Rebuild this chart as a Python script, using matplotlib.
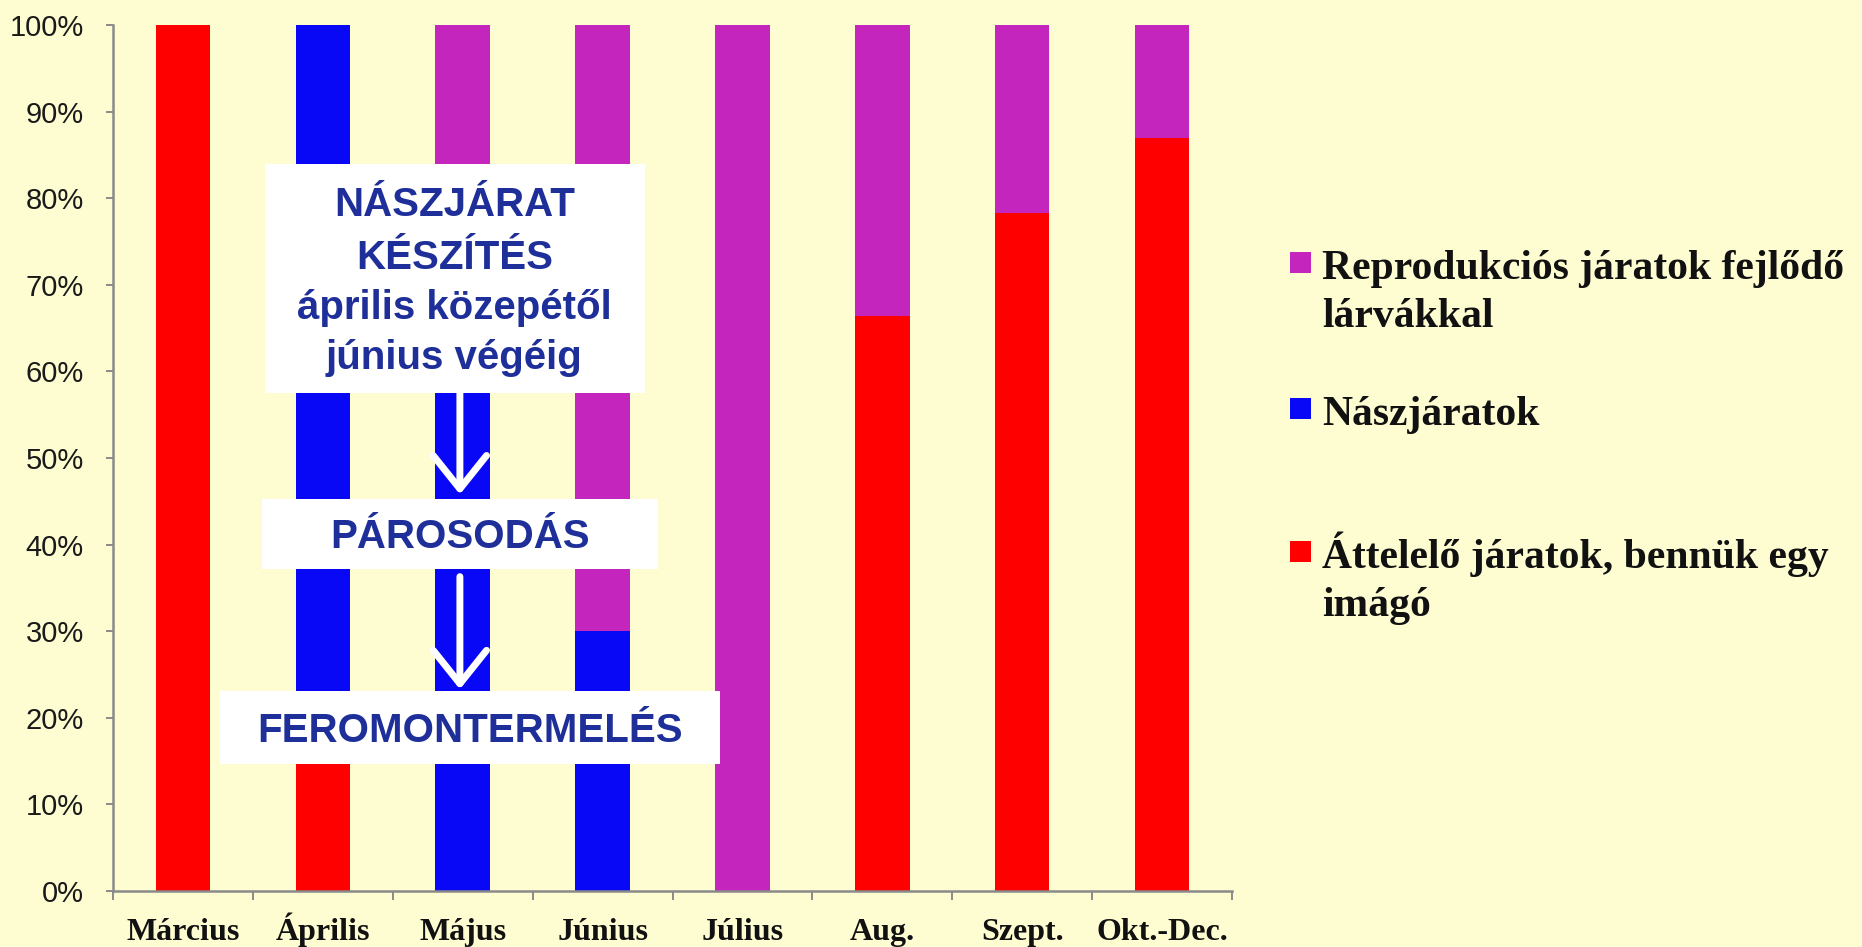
import matplotlib
matplotlib.use("Agg")
import matplotlib.pyplot as plt
from matplotlib.patches import Rectangle
from matplotlib.ticker import FixedLocator, PercentFormatter

# --- data --------------------------------------------------------------
months = ["Március", "Április", "Május", "Június", "Július", "Aug.", "Szept.", "Okt.-Dec."]
attelelo = [100, 18, 0, 0, 0, 66.4, 78.3, 86.9]       # Áttelelő járatok
naszjarat = [0, 82, 75, 30, 0, 0, 0, 0]                # Nászjáratok
reprodukcios = [0, 0, 25, 70, 100, 33.6, 21.7, 13.1]  # Reprodukciós járatok

legend_labels = ["Reprodukciós járatok fejlődő\nlárvákkal",
                 "Nászjáratok",
                 "Áttelelő járatok, bennük egy\nimágó"]

box_lines = ["NÁSZJÁRAT", "KÉSZÍTÉS", "április közepétől", "június végéig"]
box_mid = "PÁROSODÁS"
box_low = "FEROMONTERMELÉS"

c_red = "#FF0000"
c_blue = "#0808F6"
c_mag = "#C425BC"
c_bg = "#FEFDD1"
c_txt = "#1F2F9A"
c_axis = "#8A8A8A"

W, H = 1862, 947
fig = plt.figure(figsize=(W / 100, H / 100), dpi=100, facecolor=c_bg)
ax = fig.add_axes([113 / W, 1 - 891 / H, (1232 - 113) / W, (891 - 25) / H])
ax.set_facecolor(c_bg)

x = range(len(months))
bw = 0.39
ax.bar(x, attelelo, bw, color=c_red, zorder=2)
ax.bar(x, naszjarat, bw, bottom=attelelo, color=c_blue, zorder=2)
bottom3 = [a + b for a, b in zip(attelelo, naszjarat)]
ax.bar(x, reprodukcios, bw, bottom=bottom3, color=c_mag, zorder=2)

ax.set_xlim(-0.5, len(months) - 0.5)
ax.set_ylim(0, 100)

# axes styling
for s in ["top", "right"]:
    ax.spines[s].set_visible(False)
for s in ["left", "bottom"]:
    ax.spines[s].set_color(c_axis)
    ax.spines[s].set_linewidth(1.8)

ax.set_yticks(range(0, 101, 10))
ax.yaxis.set_major_formatter(PercentFormatter(decimals=0))
ax.tick_params(axis="y", length=5, width=1.4, color=c_axis, pad=16,
               labelsize=21, labelcolor="#1A1A1A")
for t in ax.get_yticklabels():
    t.set_fontfamily("Liberation Sans")

ax.set_xticks(list(x))
ax.set_xticklabels(months, fontfamily="Liberation Serif", fontweight="bold",
                   fontsize=23, color="#111111")
for t in ax.get_xticklabels():
    t.set_verticalalignment("baseline")
ax.xaxis.set_minor_locator(FixedLocator([i - 0.5 for i in range(len(months) + 1)]))
ax.tick_params(axis="x", which="major", length=0, pad=35)
ax.tick_params(axis="x", which="minor", length=6.5, width=1.4, color=c_axis)

# --- annotation boxes -----------------------------------------------------
ax.add_patch(Rectangle((0.587, 57.5), 3.303 - 0.587, 83.9 - 57.5,
                       facecolor="white", edgecolor="none", zorder=4))
ax.add_patch(Rectangle((0.563, 37.2), 3.398 - 0.563, 45.3 - 37.2,
                       facecolor="white", edgecolor="none", zorder=4))
ax.add_patch(Rectangle((0.265, 14.7), 3.839 - 0.265, 23.1 - 14.7,
                       facecolor="white", edgecolor="none", zorder=4))

txt_kw = dict(ha="center", va="baseline", color=c_txt, fontsize=29,
              fontweight="bold", fontfamily="Liberation Sans", zorder=5)
for yb, line in zip([77.9, 71.8, 66.1, 60.3], box_lines):
    ax.text(1.94, yb, line, **txt_kw)
ax.text(1.98, 39.6, box_mid, **txt_kw)
ax.text(2.05, 17.2, box_low, **txt_kw)

arrow_kw = dict(arrowstyle="->,head_length=0.4,head_width=0.32", color="white",
                lw=5, mutation_scale=60, shrinkA=0, shrinkB=0)
ax.annotate("", xy=(1.98, 45.8), xytext=(1.98, 57.5), arrowprops=arrow_kw, zorder=3)
ax.annotate("", xy=(1.98, 23.3), xytext=(1.98, 36.3), arrowprops=arrow_kw, zorder=3)

# --- legend (drawn by hand to match the slide layout) ---------------------
leg_colors = [c_mag, c_blue, c_red]
leg_base = [279, 425, 568]
for col, yb, lab in zip(leg_colors, leg_base, legend_labels):
    fig.add_artist(Rectangle((1290 / W, 1 - (yb - 6) / H), 21 / W, 21 / H,
                             transform=fig.transFigure, facecolor=col,
                             edgecolor="none"))
    for k, line in enumerate(lab.split("\n")):
        fig.text(1322 / W, 1 - (yb + 48 * k) / H, line, ha="left", va="baseline",
                 fontsize=30, fontweight="bold", fontfamily="Liberation Serif",
                 color="#111111")

fig.savefig("out.png", dpi=100, facecolor=c_bg)
